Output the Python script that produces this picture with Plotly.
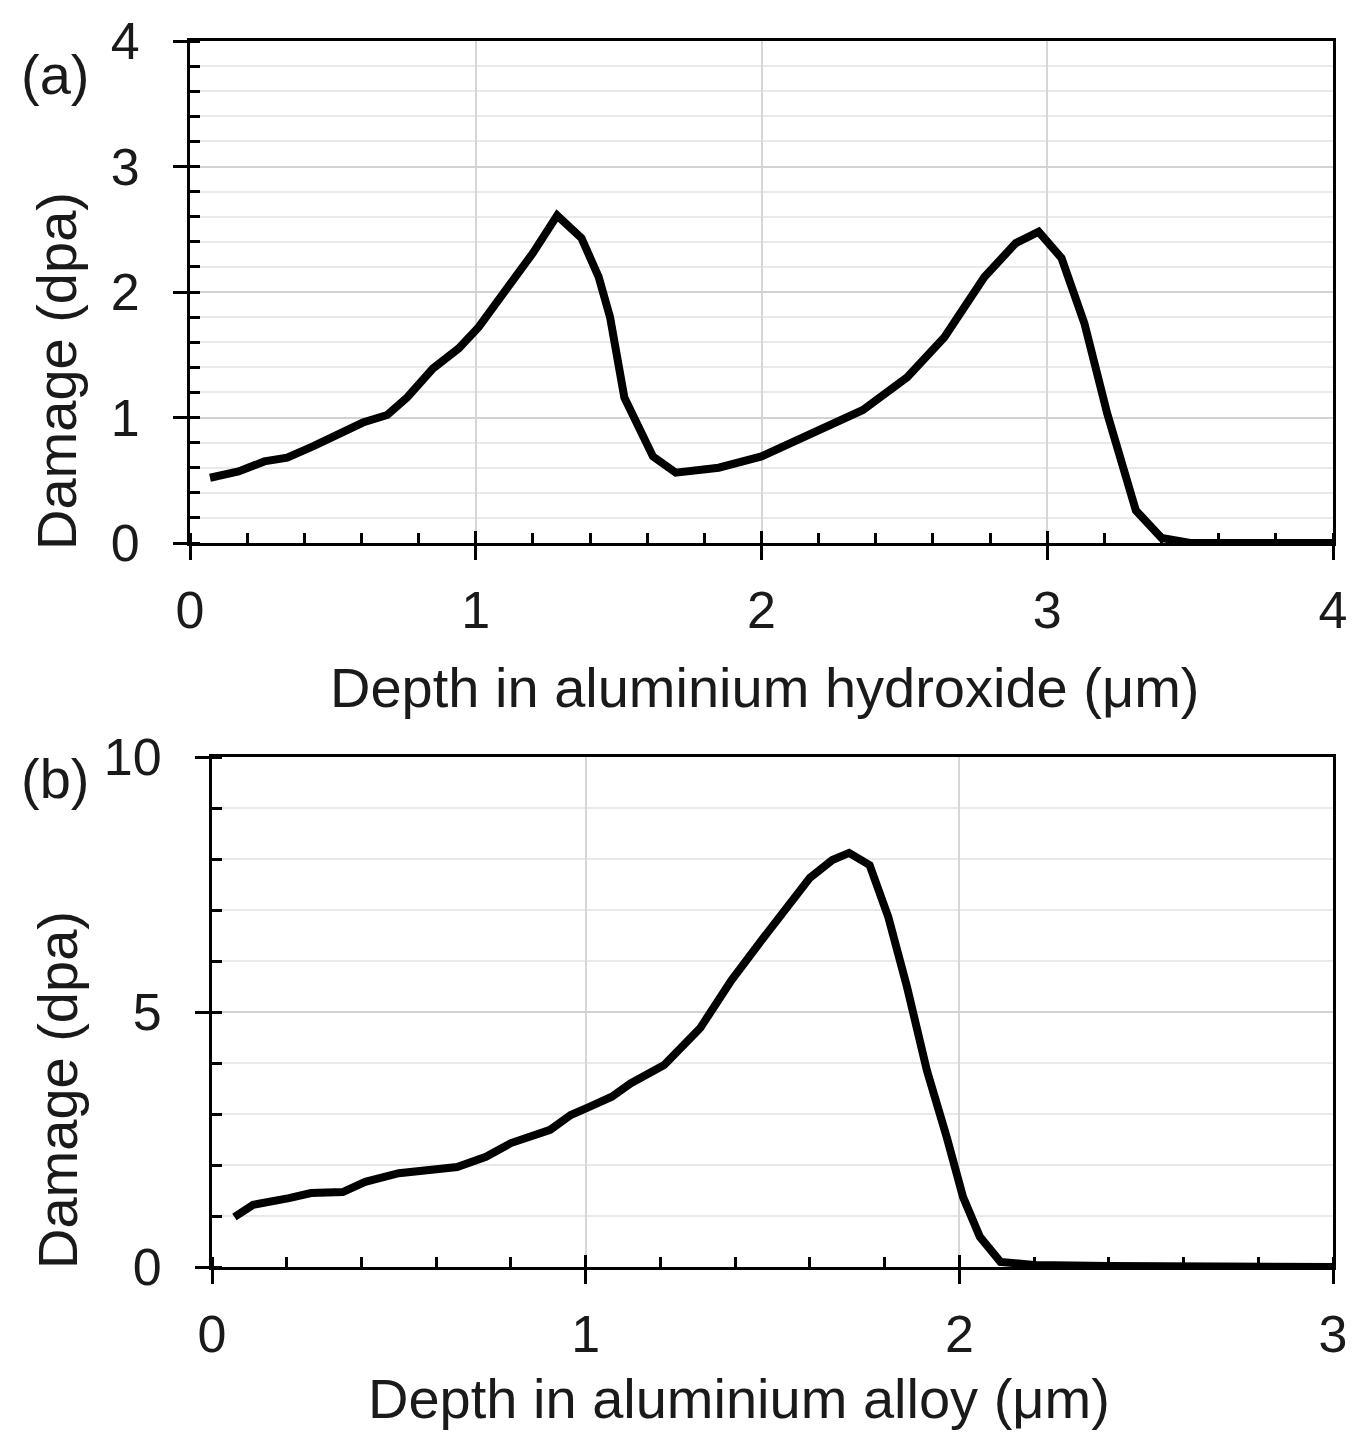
import plotly.graph_objects as go

# Panel (a): damage in aluminium hydroxide
depth_a = [0.07, 0.17, 0.26, 0.34, 0.43, 0.52, 0.605, 0.69, 0.76, 0.85, 0.94, 1.01,
           1.12, 1.20, 1.285, 1.37, 1.43, 1.47, 1.52, 1.62, 1.70, 1.85, 2.00, 2.19,
           2.355, 2.51, 2.64, 2.78, 2.89, 2.97, 3.05, 3.13, 3.21, 3.31, 3.40, 3.50,
           3.70, 4.00]
damage_a = [0.52, 0.57, 0.65, 0.68, 0.77, 0.86, 0.96, 1.02, 1.16, 1.39, 1.55, 1.72,
            2.07, 2.31, 2.61, 2.43, 2.12, 1.80, 1.16, 0.69, 0.56, 0.60, 0.69, 0.88,
            1.06, 1.32, 1.64, 2.12, 2.39, 2.48, 2.27, 1.75, 1.03, 0.26, 0.04, 0.0,
            0.0, 0.0]

# Panel (b): damage in aluminium alloy
depth_b = [0.06, 0.11, 0.206, 0.265, 0.35, 0.41, 0.50, 0.656, 0.733, 0.80, 0.905,
           0.96, 1.01, 1.07, 1.12, 1.21, 1.306, 1.39, 1.47, 1.60, 1.66, 1.705, 1.76,
           1.81, 1.86, 1.913, 1.966, 2.01, 2.055, 2.11, 2.20, 2.40, 3.00]
damage_b = [0.98, 1.22, 1.35, 1.45, 1.47, 1.67, 1.84, 1.96, 2.16, 2.43, 2.69,
            2.98, 3.14, 3.34, 3.60, 3.96, 4.68, 5.62, 6.40, 7.63, 7.98, 8.12, 7.88,
            6.86, 5.49, 3.86, 2.55, 1.37, 0.59, 0.10, 0.04, 0.02, 0.0]

x_title_a = "Depth in aluminium hydroxide (μm)"
x_title_b = "Depth in aluminium alloy (μm)"
y_title = "Damage (dpa)"

FONT = "Liberation Sans, Arial, sans-serif"
TXT = "#1a1a1a"
PAGE_W, PAGE_H = 1356, 1432
OFF = 8  # default page body margin
W, H = PAGE_W - OFF, PAGE_H - OFF

def fx(px):
    return (px - OFF) / W

def fy(py):
    return 1 - (py - OFF) / H

dom_xa = [fx(190), fx(1333)]
dom_ya = [fy(543), fy(41)]
dom_xb = [fx(212), fx(1333)]
dom_yb = [fy(1267), fy(757)]

fig = go.Figure()
line = dict(color="black", width=8)
fig.add_trace(go.Scatter(x=depth_a, y=damage_a, mode="lines", line=line,
                         xaxis="x", yaxis="y", showlegend=False))
fig.add_trace(go.Scatter(x=depth_b, y=damage_b, mode="lines", line=line,
                         xaxis="x2", yaxis="y2", showlegend=False))
# invisible traces to activate the overlay axes (inner half of crossing major ticks)
fig.add_trace(go.Scatter(x=depth_a, y=damage_a, mode="lines", line=dict(width=0),
                         xaxis="x3", yaxis="y3", showlegend=False, hoverinfo="skip"))
fig.add_trace(go.Scatter(x=depth_b, y=damage_b, mode="lines", line=dict(width=0),
                         xaxis="x4", yaxis="y4", showlegend=False, hoverinfo="skip"))

tickfont = dict(family=FONT, size=52, color=TXT)

def main_x(dom, rng, anchor):
    return dict(domain=dom, range=rng, anchor=anchor, dtick=1, tick0=0,
                automargin=False,
                showline=True, linecolor="black", linewidth=3, mirror=True,
                ticks="outside", ticklen=14, tickwidth=3, tickcolor="black",
                tickfont=tickfont, ticklabelstandoff=6,
                showgrid=True, gridcolor="#d6d6d6", gridwidth=2, zeroline=False,
                minor=dict(dtick=0.2, tick0=0, ticks="inside", ticklen=10,
                           tickwidth=3, tickcolor="black", showgrid=False),
                fixedrange=True)

def main_y(dom, rng, anchor, dtick, mdtick):
    return dict(domain=dom, range=rng, anchor=anchor, dtick=dtick, tick0=0,
                automargin=False,
                showline=True, linecolor="black", linewidth=3, mirror=True,
                ticks="outside", ticklen=14, tickwidth=3, tickcolor="black",
                tickfont=tickfont, ticklabelstandoff=23,
                showgrid=True, gridcolor="#d2d2d2", gridwidth=2, zeroline=False,
                minor=dict(dtick=mdtick, tick0=0, ticks="inside", ticklen=10,
                           tickwidth=3, tickcolor="black", showgrid=True,
                           gridcolor="#e9e9e9", gridwidth=2),
                fixedrange=True)

def over_x(base, rng, anchor):
    return dict(overlaying=base, range=rng, anchor=anchor, side="bottom",
                automargin=False,
                dtick=1, tick0=0, ticks="inside", ticklen=12, tickwidth=3,
                tickcolor="black", showticklabels=False, showgrid=False,
                showline=False, zeroline=False, fixedrange=True)

def over_y(base, rng, anchor, dtick):
    return dict(overlaying=base, range=rng, anchor=anchor, side="left",
                automargin=False,
                dtick=dtick, tick0=0, ticks="inside", ticklen=10, tickwidth=3,
                tickcolor="black", showticklabels=False, showgrid=False,
                showline=False, zeroline=False, fixedrange=True)

fig.update_layout(
    width=W, height=H,
    margin=dict(l=0, r=0, t=0, b=0, autoexpand=False),
    paper_bgcolor="white", plot_bgcolor="white",
    font=dict(family=FONT, color=TXT),
    xaxis=main_x(dom_xa, [0, 4], "y"),
    yaxis=main_y(dom_ya, [0, 4], "x", 1, 0.2),
    xaxis2=main_x(dom_xb, [0, 3], "y2"),
    yaxis2=main_y(dom_yb, [0, 10], "x2", 5, 1),
    xaxis3=over_x("x", [0, 4], "y3"),
    yaxis3=over_y("y", [0, 4], "x3", 1),
    xaxis4=over_x("x2", [0, 3], "y4"),
    yaxis4=over_y("y2", [0, 10], "x4", 5),
)

ann_font = dict(family=FONT, size=56, color=TXT)
annots = [
    ("(a)", 55, 75, 0),
    ("(b)", 55, 778, 0),
    (x_title_a, 764, 688, 0),
    (x_title_b, 739, 1398, 0),
    (y_title, 57, 371, -90),
    (y_title, 57, 1090, -90),
]
for text, px, py, ang in annots:
    fig.add_annotation(text=text, x=fx(px), y=fy(py), xref="paper", yref="paper",
                       xanchor="center", yanchor="middle", showarrow=False,
                       textangle=ang, font=ann_font)

fig.write_html("out.html")
